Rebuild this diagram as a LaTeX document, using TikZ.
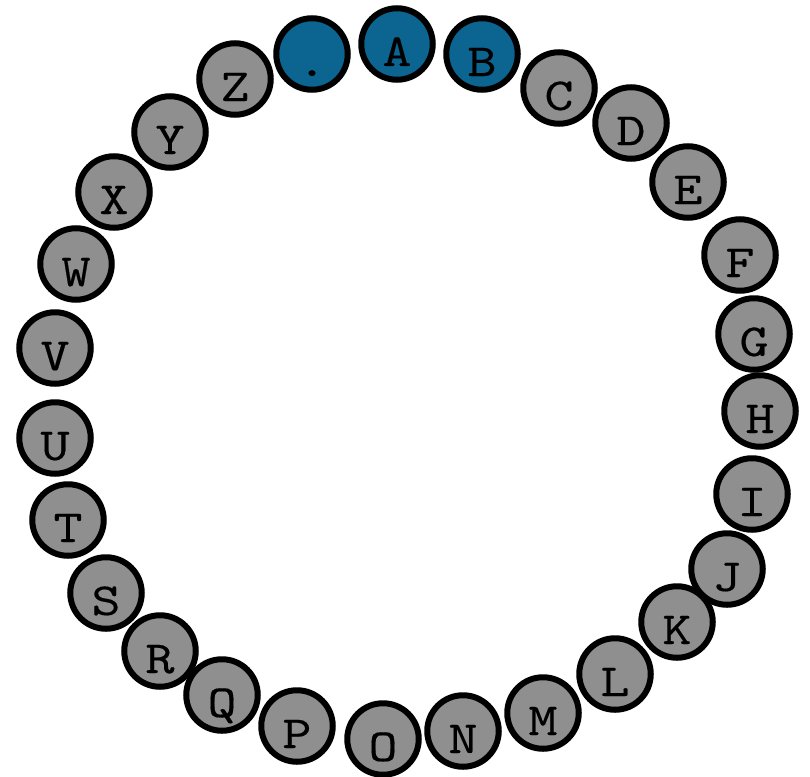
\documentclass[tikz,border=0pt]{standalone}
\usepackage{fontspec}
\newfontfamily\keyfont[FakeStretch=1.2,FakeBold=0.3]{lmmono10-regular.otf}
\definecolor{keygray}{HTML}{8F8F8F}
\definecolor{keyblue}{HTML}{0C6491}

\begin{document}
\begin{tikzpicture}[
    x=1pt, y=-1pt,
    key/.style={circle, draw=black, line width=6pt, fill=keygray, minimum size=71.5pt, inner sep=0pt,
        text height=44pt, text depth=0pt, font=\keyfont\fontsize{46}{46}\selectfont},
    picked/.style={key, fill=keyblue}
]
\useasboundingbox (0,0) rectangle (810,776);

% Selected keys
\node[picked] (dot) at (312, 54) {.};
\node[picked] (a) at (397, 44) {A};
\node[picked] (b) at (482, 54) {B};

% Right side
\node[key] (c) at (559, 88) {C};
\node[key] (d) at (631, 123) {D};
\node[key] (e) at (688, 182) {E};
\node[key] (f) at (740, 255) {F};
\node[key] (g) at (754, 334) {G};
\node[key] (h) at (760, 411) {H};
\node[key] (i) at (752, 494) {I};
\node[key] (j) at (727, 569) {J};
\node[key] (k) at (677, 622) {K};
\node[key] (l) at (615, 674) {L};
\node[key] (m) at (543, 713) {M};
\node[key] (n) at (463, 731) {N};

% Bottom and left side
\node[key] (o) at (383, 739) {O};
\node[key] (p) at (297, 726) {P};
\node[key] (q) at (222, 695) {Q};
\node[key] (r) at (160, 651) {R};
\node[key] (s) at (106, 593) {S};
\node[key] (t) at (68, 520) {T};
\node[key] (u) at (55, 438) {U};
\node[key] (v) at (55, 348) {V};
\node[key] (w) at (76, 264) {W};
\node[key] (x) at (114, 192) {X};
\node[key] (y) at (170, 132) {Y};
\node[key] (z) at (235, 79) {Z};

\end{tikzpicture}
\end{document}
